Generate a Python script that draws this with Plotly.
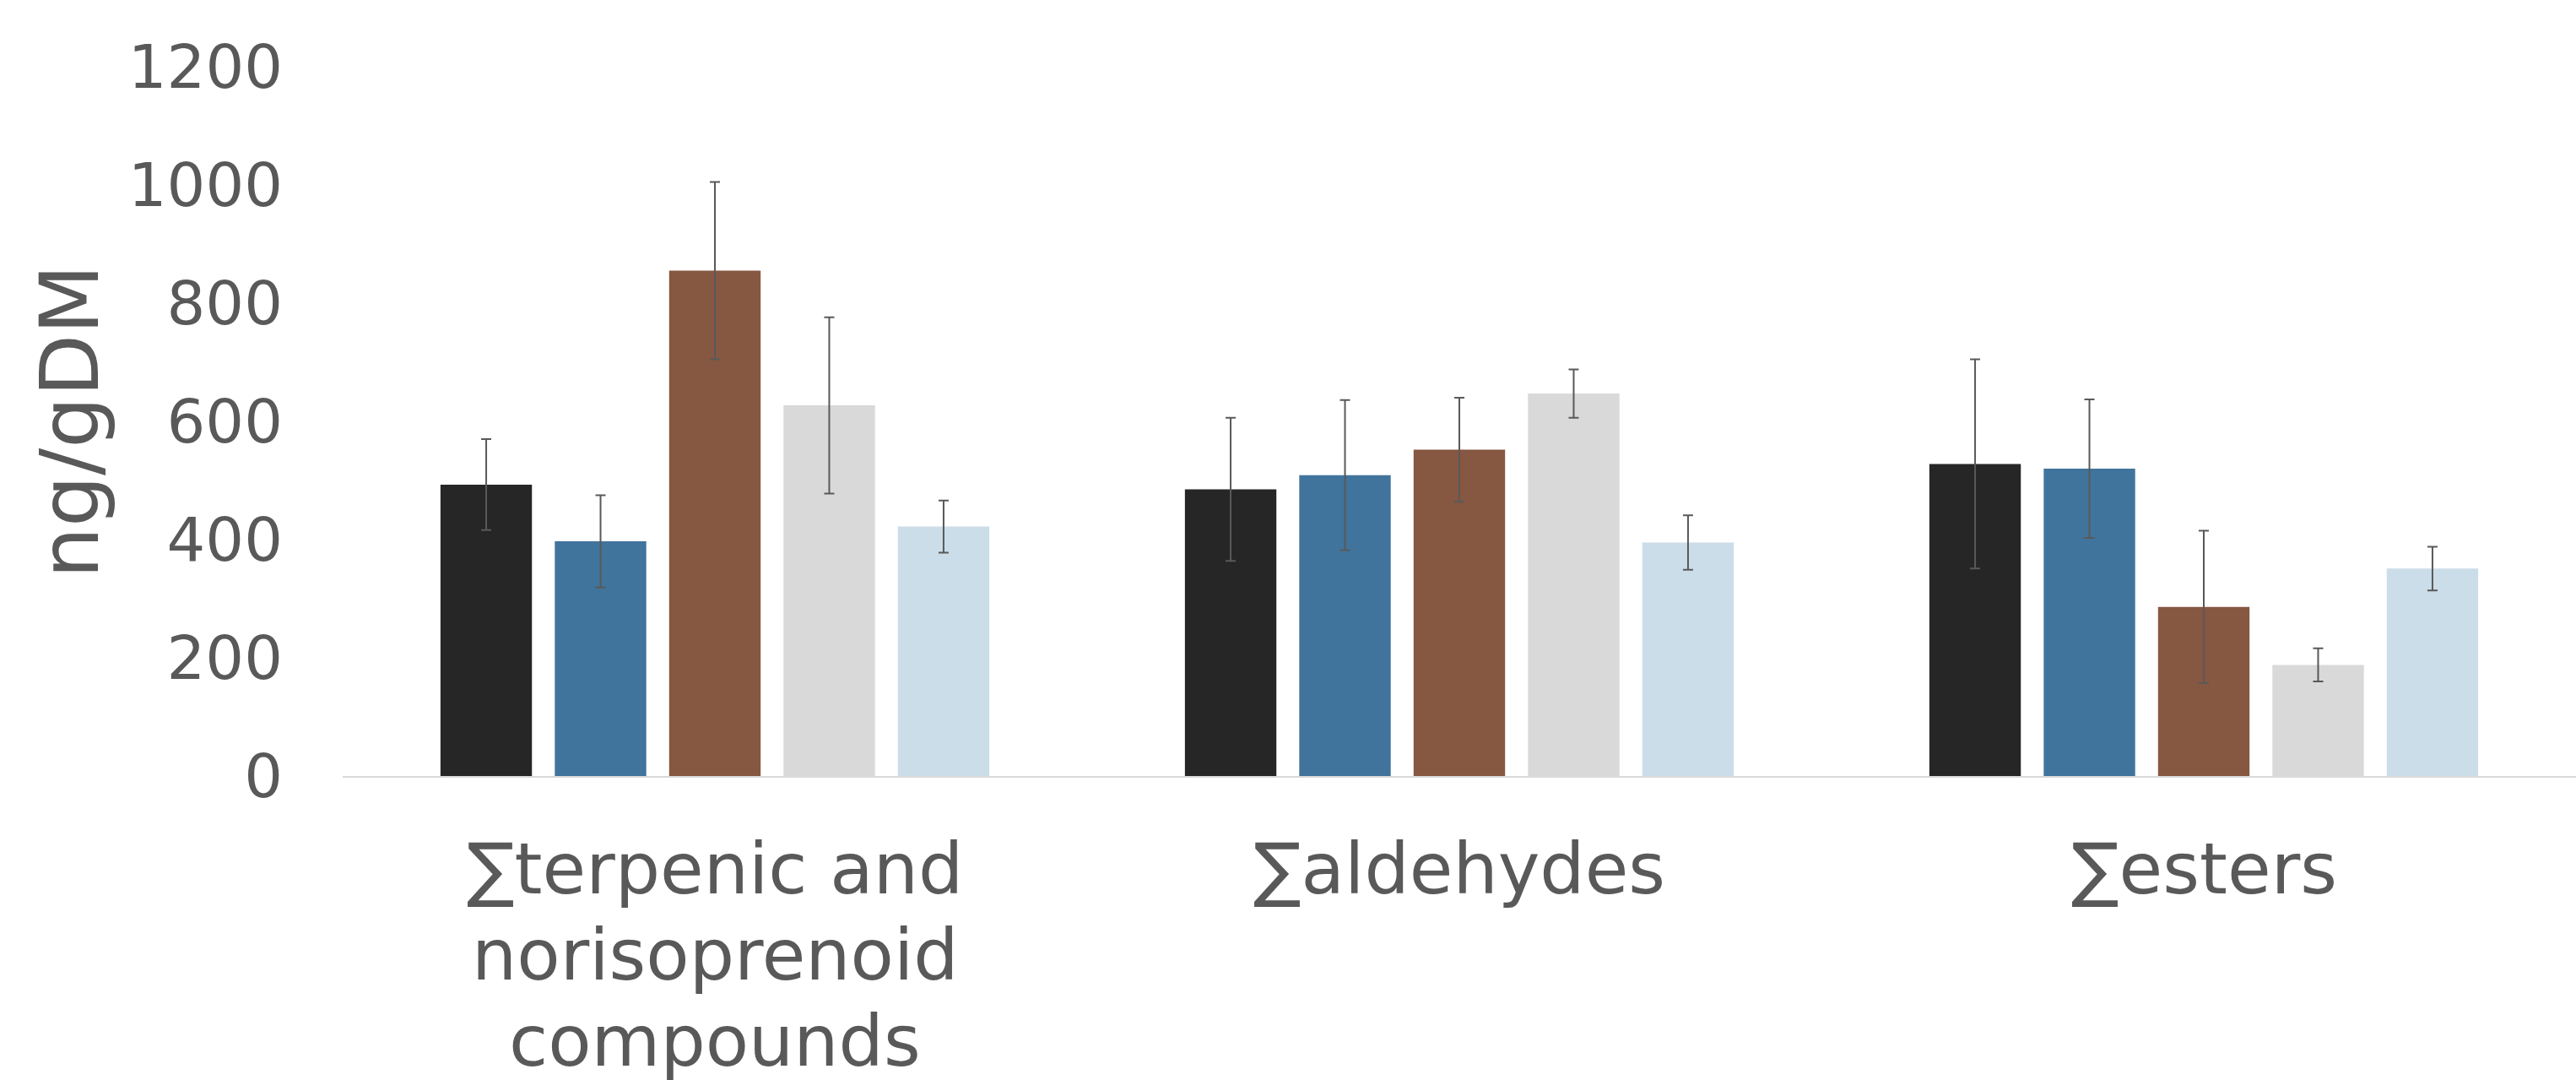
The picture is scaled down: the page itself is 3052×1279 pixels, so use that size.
import plotly.graph_objects as go

# Compound classes on the x axis, and the lines used to print each one
categories = ["\u2211terpenic and norisoprenoid compounds", "\u2211aldehydes", "\u2211esters"]
category_lines = [
    ["\u2211terpenic and", "norisoprenoid", "compounds"],
    ["\u2211aldehydes"],
    ["\u2211esters"],
]

# Mean concentrations (ng/gDM) for each of the five samples
sample_1 = [493, 485, 528]
sample_2 = [397, 509, 520]
sample_3 = [855, 552, 286]
sample_4 = [627, 647, 188]
sample_5 = [422, 395, 351]

# Standard deviations
sd_1 = [77, 121, 177]
sd_2 = [78, 127, 117]
sd_3 = [150, 88, 129]
sd_4 = [149, 41, 28]
sd_5 = [44, 46, 37]

y_ticks = [0, 200, 400, 600, 800, 1000, 1200]

series = [
    ("Sample 1", sample_1, sd_1, "#262626"),
    ("Sample 2", sample_2, sd_2, "#41749c"),
    ("Sample 3", sample_3, sd_3, "#865741"),
    ("Sample 4", sample_4, sd_4, "#d9d9d9"),
    ("Sample 5", sample_5, sd_5, "#cbdde9"),
]

text_color = "#595959"
font_family = "DejaVu Sans, Verdana, sans-serif"
label_size = 84
label_line_height = 102   # tighter than plotly's default 1.3 em
label_offset = 60         # gap between the axis line and the first label line

fig = go.Figure()
for name, vals, sd, color in series:
    fig.add_trace(go.Bar(
        name=name,
        x=categories,
        y=vals,
        marker=dict(color=color, line=dict(width=0)),
        error_y=dict(type="data", array=sd, visible=True,
                     color=text_color, thickness=2, width=6),
    ))

# Category labels, one annotation per line so the line spacing can be set
annotations = []
for cat, lines in zip(categories, category_lines):
    for i, line in enumerate(lines):
        annotations.append(dict(
            x=cat, xref="x", y=0, yref="paper",
            xanchor="center", yanchor="top",
            yshift=-(label_offset + i * label_line_height),
            text=line, showarrow=False, borderpad=0,
            font=dict(size=label_size, color=text_color, family=font_family),
        ))

fig.update_layout(
    width=3052,
    height=1279,
    barmode="group",
    bargap=0.232,
    bargroupgap=0.2,
    showlegend=False,
    plot_bgcolor="white",
    paper_bgcolor="white",
    margin=dict(l=406, r=0, t=79, b=360),
    font=dict(family=font_family, color=text_color),
    annotations=annotations,
    xaxis=dict(
        automargin=False,
        showline=True,
        linecolor="#d9d9d9",
        linewidth=2,
        ticks="",
        showgrid=False,
        showticklabels=False,
    ),
    yaxis=dict(
        automargin=False,
        range=[0, 1200],
        tickvals=y_ticks,
        showgrid=False,
        zeroline=False,
        showline=False,
        ticks="",
        tickfont=dict(size=72, color=text_color, family=font_family),
        ticklabelstandoff=70,
        title=dict(text="ng/gDM", font=dict(size=96, color=text_color, family=font_family),
                   standoff=3),
    ),
)

fig.write_html("out.html")
